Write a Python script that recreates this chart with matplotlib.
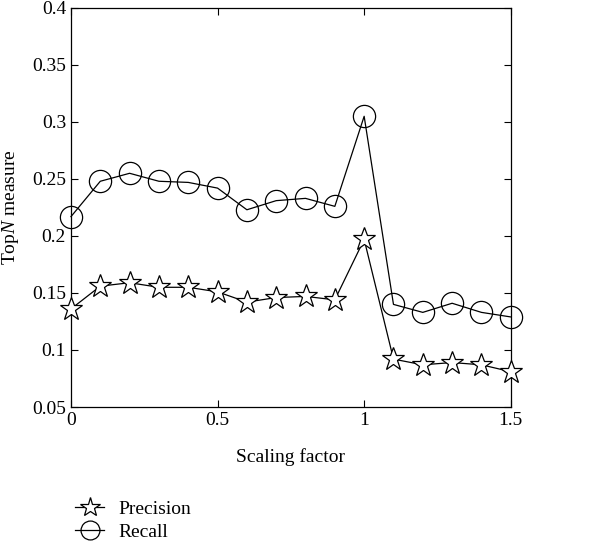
import matplotlib
matplotlib.use("Agg")
import matplotlib.pyplot as plt

plt.rcParams['font.family'] = ['Liberation Serif', 'DejaVu Serif']
plt.rcParams['mathtext.fontset'] = 'custom'
plt.rcParams['mathtext.rm'] = 'Liberation Serif'
plt.rcParams['mathtext.it'] = 'Liberation Serif:italic'

scaling = [0.0, 0.1, 0.2, 0.3, 0.4, 0.5, 0.6, 0.7, 0.8, 0.9, 1.0, 1.1, 1.2, 1.3, 1.4, 1.5]
precision = [0.136, 0.156, 0.159, 0.155, 0.155, 0.151, 0.142, 0.146, 0.147, 0.144,
             0.197, 0.092, 0.087, 0.089, 0.087, 0.081]
recall = [0.217, 0.248, 0.255, 0.248, 0.247, 0.242, 0.223, 0.231, 0.233, 0.226,
          0.305, 0.140, 0.133, 0.141, 0.133, 0.129]

xticks = [0, 0.5, 1, 1.5]
xticklabels = ["0", "0.5", "1", "1.5"]
yticks = [0.05, 0.1, 0.15, 0.2, 0.25, 0.3, 0.35, 0.4]
yticklabels = ["0.05", "0.1", "0.15", "0.2", "0.25", "0.3", "0.35", "0.4"]

fig = plt.figure(figsize=(6.03, 5.5), dpi=100)
ax = fig.add_axes([0.1177, 0.26, 0.7293, 0.7255])

lp, = ax.plot(scaling, precision, color='black', lw=0.9, marker='*', markersize=17,
              markerfacecolor='white', markeredgecolor='black', markeredgewidth=0.9,
              label='Precision', clip_on=False, zorder=3)
lr, = ax.plot(scaling, recall, color='black', lw=0.9, marker='o', markersize=16,
              markerfacecolor='none', markeredgecolor='black', markeredgewidth=0.9,
              label='Recall', clip_on=False, zorder=3)

ax.set_xlim(0, 1.5)
ax.set_ylim(0.05, 0.4)
ax.set_xticks(xticks)
ax.set_xticklabels(xticklabels)
ax.set_yticks(yticks)
ax.set_yticklabels(yticklabels)
ax.tick_params(direction='in', top=True, right=True, labelsize=14, length=5, width=0.8)
for s in ax.spines.values():
    s.set_linewidth(0.9)
ax.set_xlabel('Scaling factor', fontsize=14, labelpad=14)
ax.set_ylabel(r'Top$N$ measure', fontsize=14, labelpad=8)

fig.legend(handles=[lp, lr], loc='upper left', bbox_to_anchor=(0.112, 0.105),
           frameon=False, fontsize=14, handlelength=1.5, handletextpad=0.7,
           labelspacing=0.3, borderaxespad=0, markerscale=0.85)

fig.savefig('out.png', dpi=100)
